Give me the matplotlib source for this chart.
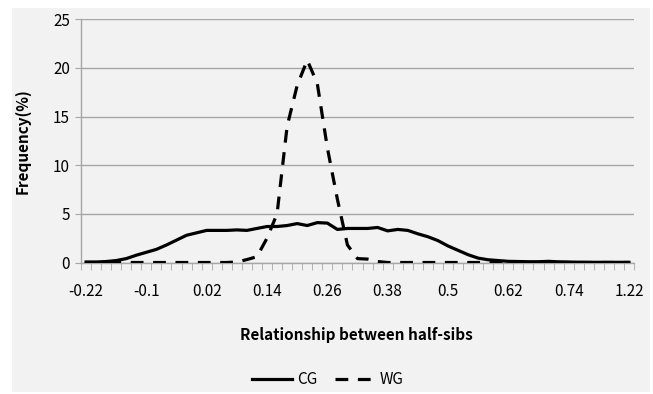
import matplotlib
matplotlib.use('Agg')
import matplotlib.pyplot as plt
from matplotlib.patches import Rectangle
from matplotlib.ticker import FixedLocator, NullFormatter
import numpy as np

plt.rcParams['font.family'] = ['Noto Sans CJK KR', 'DejaVu Sans']

# category labels (bins of the relationship coefficient), last bin is 1.22
categories = [f'{-0.22 + 0.02 * i:.2f}'.rstrip('0').rstrip('.') for i in range(54)] + ['1.22']

cg = [0.05, 0.05, 0.1, 0.2, 0.4, 0.75, 1.05, 1.35, 1.8, 2.3,
      2.8, 3.05, 3.3, 3.3, 3.3, 3.35, 3.3, 3.5, 3.7, 3.7,
      3.8, 4.0, 3.8, 4.1, 4.05, 3.4, 3.5, 3.5, 3.5, 3.6,
      3.25, 3.4, 3.3, 2.95, 2.65, 2.25, 1.7, 1.25, 0.8, 0.45,
      0.28, 0.2, 0.12, 0.1, 0.08, 0.08, 0.12, 0.07, 0.05, 0.03,
      0.02, 0.02, 0.02, 0.02, 0.02]

wg = [0, 0, 0, 0, 0, 0, 0, 0, 0, 0,
      0, 0, 0, 0, 0, 0.05, 0.3, 0.6, 2.5, 5.0,
      14.0, 18.2, 20.8, 18.4, 11.8, 6.5, 1.8, 0.4, 0.35, 0.1,
      0, 0, 0, 0, 0, 0, 0, 0, 0, 0,
      0, 0, 0, 0, 0, 0, 0, 0, 0, 0,
      0, 0, 0, 0, 0]

W, H = 653, 394
fig = plt.figure(figsize=(W / 100, H / 100), dpi=100)
fig.patch.set_facecolor('white')
bg = Rectangle((12 / W, 2 / H), 638 / W, 384 / H, transform=fig.transFigure,
               facecolor='#f2f2f2', edgecolor='none', zorder=-10)
fig.add_artist(bg)

ax = fig.add_axes([81 / W, 1 - 262.5 / H, 553 / W, (262.5 - 19.3) / H])
ax.set_facecolor('none')
ax.set_zorder(1)

x = np.arange(len(categories))
ax.plot(x, cg, color='black', lw=2.3, solid_joinstyle='round', label='CG', zorder=3)
ax.plot(x, wg, color='black', lw=2.3, dashes=(4, 3), label='WG', zorder=3)

ax.set_xlim(-0.5, len(categories) - 0.5)
ax.set_ylim(0, 25)
ax.set_yticks([0, 5, 10, 15, 20, 25])
ax.yaxis.grid(True, color='#a6a6a6', lw=1)
ax.set_axisbelow(True)

ax.xaxis.set_major_locator(FixedLocator(list(range(0, len(categories), 6))))
ax.set_xticklabels([categories[i] for i in range(0, len(categories), 6)])
ax.xaxis.set_minor_locator(FixedLocator(np.arange(-0.5, len(categories))))
ax.xaxis.set_minor_formatter(NullFormatter())
ax.tick_params(axis='x', which='major', length=0, pad=15, labelsize=11, colors='black')
ax.tick_params(axis='x', which='minor', length=5, direction='out', color='#a6a6a6')
ax.tick_params(axis='y', length=4, color='#a6a6a6', labelsize=11, pad=4)

for s in ['top', 'right']:
    ax.spines[s].set_visible(False)
for s in ['left', 'bottom']:
    ax.spines[s].set_color('#a6a6a6')
    ax.spines[s].set_linewidth(1)

ax.set_ylabel('Frequency(%)', fontsize=11, fontweight='bold', labelpad=16)
fig.text(356 / W, 1 - 335 / H, 'Relationship between half-sibs', fontsize=11,
         fontweight='bold', ha='center', va='center')

fig.legend(loc='center', bbox_to_anchor=(328 / W, 1 - 380 / H), ncol=2, frameon=False,
           fontsize=11, handlelength=2.6, columnspacing=1.2, handletextpad=0.3)

fig.savefig('out.png', dpi=100, facecolor=fig.get_facecolor())
